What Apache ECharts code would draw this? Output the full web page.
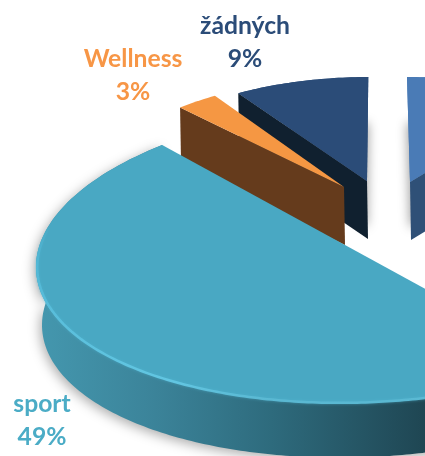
<!DOCTYPE html>
<html><head><meta charset="utf-8">
<style>html,body{margin:0;padding:0;background:#fff}#c{width:425px;height:456px}</style>
<script src="https://cdn.jsdelivr.net/npm/echarts@6/dist/echarts.min.js"></script>
</head><body><div id="c"></div>
<script>
// Data (two slices lie mostly outside the crop; their labels are not visible)
const categories = ['', '', 'sport', 'Wellness', 'žádných'];
const percents   = [10, 29, 49, 3, 9];
const shownLabels = ['', '', '49%', '3%', '9%'];

// Styling / projection
const drawOrder = [1, 0, 4, 3, 2];
const style = [
  {top:'#4a7bb6', side:'#2f5077', apex:[410,182], A:245, B:105, S:-3, shadow:true},
  {top:'#b85450', side:'#7a3532', apex:[540,240], A:245, B:105, S:0},
  {top:'#49a8c3', label:'#4bacc6', text:[42,404]},
  {top:'#f59743', side:'#653b1c', label:'#f79646', apex:[344,187], A:248, B:109, S:8, text:[133,59]},
  {top:'#2b4c78', side:'#10202f', label:'#2b4c78', apex:[367,181], A:245, B:104, S:3, text:[245,26], shadow:true}
];
const depth = 58, RAD = Math.PI/180;

// cumulative clockwise angles from 12 o'clock
const total = percents.reduce((a,b)=>a+b,0);
let acc = 0;
const spans = percents.map(p=>{const s=acc; acc+=p/total*360; return [s,acc];});

// Big slice: its rim is an ellipse whose apex sits off-centre (projective map of the circle)
const E = {cx:370, cy:253, a:334, b:149, k:14};
const E2 = {cx:370, cy:311, a:328, b:146, k:14};
const sportApex = [440,297];
const toDisc = (p)=>{const c=(E.cx-p[0])/E.a; return [c,(p[1]-E.cy-E.k*c)/E.b];};
const fromDisc = (d,e)=>[e.cx-e.a*d[0], e.cy+e.b*d[1]+e.k*d[0]];
const pd = toDisc(sportApex), r = Math.hypot(pd[0],pd[1]), phi = Math.atan2(pd[1],pd[0]);
const boost = (alpha)=>{
  const x=Math.cos(alpha), y=Math.sin(alpha), w=1+r*x;
  const xb=(x+r)/w, yb=y*Math.sqrt(1-r*r)/w;
  return [xb*Math.cos(phi)-yb*Math.sin(phi), xb*Math.sin(phi)+yb*Math.cos(phi)];
};
const alpha0 = (()=>{
  let d=toDisc([162,145]); const n=Math.hypot(d[0],d[1]); d=[d[0]/n,d[1]/n];
  const xb=d[0]*Math.cos(-phi)-d[1]*Math.sin(-phi), yb=d[0]*Math.sin(-phi)+d[1]*Math.cos(-phi);
  const w=1-r*xb;
  return Math.atan2(yb*Math.sqrt(1-r*r)/w,(xb-r)/w);
})();

function renderSport(i){
  const st=style[i], [s,e]=spans[i], top=[], low=[], hi=[];
  for(let th=e; th>=s-0.001; th-=1){
    const d=boost(alpha0+(e-th)*RAD);
    const pt=fromDisc(d,E), pb=fromDisc(d,E2);
    top.push(pt); low.push(pb);
    if(Math.atan2(d[1],d[0])>-25*RAD) hi.push([pt[0]+1.2,pt[1]+0.2]);
  }
  const wall={type:'linear',x:40,y:0,x2:425,y2:0,global:true,colorStops:[
    {offset:0,color:'#4497ae'},{offset:.3,color:'#3b8399'},{offset:.6,color:'#2e6b7d'},{offset:1,color:'#1f4653'}]};
  const bevel={type:'linear',x:0,y:225,x2:0,y2:400,global:true,colorStops:[
    {offset:0,color:'rgba(82,184,214,0)'},{offset:.22,color:'#52b8d6'},{offset:.9,color:'#62c6e2'},{offset:1,color:'#5ab8d2'}]};
  return [
    {type:'polygon',shape:{points:top.concat(low.slice().reverse())},
      style:{fill:wall,shadowBlur:12,shadowColor:'rgba(0,0,0,.32)',shadowOffsetX:-2,shadowOffsetY:3}},
    {type:'polygon',shape:{points:[sportApex].concat(top)},style:{fill:st.top}},
    {type:'polyline',shape:{points:hi},style:{fill:null,stroke:bevel,lineWidth:2.5,shadowBlur:3,shadowColor:'rgba(79,180,208,.6)'}}
  ];
}

function renderFlat(i){
  const st=style[i], [s,e]=spans[i], rim=[];
  const P=(th)=>{const u=Math.sin(th*RAD),v=Math.cos(th*RAD);
    return [st.apex[0]+st.A*u+st.S*v, st.apex[1]-st.B*v];};
  for(let th=s; th<=e+0.001; th+=1) rim.push(P(th));
  const down=p=>[p[0]+1,p[1]+depth];
  const ap=st.apex, out=[];
  // the wall facing the viewer: left edge for slices left of 12 o'clock, right edge for the others
  const wallRim = s>=180 ? rim[0] : rim[rim.length-1];
  if(st.shadow) out.push({type:'polygon',shape:{points:[ap].concat(rim)},
      style:{fill:st.top,shadowBlur:11,shadowColor:'rgba(0,0,0,.38)',shadowOffsetY:46}});
  out.push({type:'polygon',shape:{points:[wallRim,ap,down(ap),down(wallRim)]},style:{fill:st.side}});
  out.push({type:'polygon',shape:{points:[ap].concat(rim)},style:{fill:st.top}});
  return out;
}

function labelEls(i){
  const st=style[i];
  if(!categories[i]) return [];
  const font='bold 24.7px Lato', cm=(t,x,y)=>({type:'text',style:{text:t,x:x,y:y,fill:st.label,font:font,align:'center',verticalAlign:'middle'}});
  return [cm(categories[i],st.text[0],st.text[1]), cm(shownLabels[i],st.text[0],st.text[1]+33)];
}

const chart = echarts.init(document.getElementById('c'),null,{renderer:'canvas'});
chart.setOption({
  animation:false, backgroundColor:'#fff',
  series:[{
    type:'custom', coordinateSystem:'none', silent:true,
    data: drawOrder.map(i=>[i,percents[i]]),
    renderItem:(params,api)=>{
      const i=api.value(0);
      return {type:'group',children:(i===2?renderSport(i):renderFlat(i)).concat(labelEls(i))};
    }
  }]
});
</script></body></html>
